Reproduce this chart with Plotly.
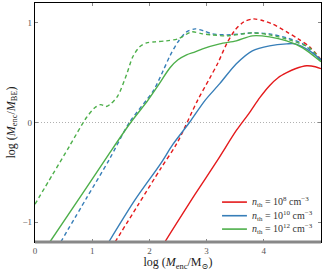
import plotly.graph_objects as go

RED = "#e41a1c"
BLUE = "#377eb8"
GREEN = "#4daf4a"

# n_th = 1e8 (red)
red_solid_x = [2.27, 2.8, 3.2, 3.52, 3.75, 3.93, 4.1, 4.25, 4.4, 4.55, 4.75, 4.9, 5.0]
red_solid_y = [-1.2, -0.72, -0.37, -0.08, 0.1, 0.25, 0.37, 0.45, 0.5, 0.54, 0.57, 0.56, 0.54]
red_dash_x = [1.4, 1.8, 2.2, 2.48, 2.84, 3.05, 3.2, 3.35, 3.5, 3.65, 3.82, 4.0, 4.15, 4.4, 4.6, 4.8, 5.0]
red_dash_y = [-1.2, -0.83, -0.46, -0.21, 0.22, 0.44, 0.6, 0.79, 0.93, 1.01, 1.04, 1.02, 0.99, 0.91, 0.84, 0.76, 0.63]

# n_th = 1e10 (blue)
blue_solid_x = [1.29, 1.745, 2.2, 2.41, 2.7, 2.97, 3.23, 3.52, 3.8, 4.1, 4.4, 4.55, 4.8, 5.0]
blue_solid_y = [-1.2, -0.78, -0.41, -0.22, 0.0, 0.22, 0.39, 0.59, 0.72, 0.77, 0.79, 0.79, 0.72, 0.63]
blue_dash_x = [0.45, 0.9, 1.3, 1.65, 2.07, 2.24, 2.36, 2.5, 2.65, 2.8, 2.95, 3.1, 3.35, 3.6, 3.8, 4.1, 4.4, 4.68, 5.0]
blue_dash_y = [-1.2, -0.76, -0.37, 0.0, 0.32, 0.52, 0.67, 0.81, 0.91, 0.94, 0.92, 0.89, 0.88, 0.89, 0.90, 0.89, 0.85, 0.79, 0.62]

# n_th = 1e12 (green)
green_solid_x = [0.26, 0.8, 1.3, 1.66, 1.97, 2.15, 2.36, 2.5, 2.65, 2.8, 2.93, 3.23, 3.52, 3.8, 4.1, 4.4, 4.68, 5.0]
green_solid_y = [-1.2, -0.74, -0.31, -0.01, 0.22, 0.37, 0.55, 0.63, 0.68, 0.71, 0.74, 0.79, 0.82, 0.87, 0.86, 0.82, 0.75, 0.61]
green_dash_x = [0.0, 0.3, 0.6, 0.9, 1.05, 1.15, 1.24, 1.33, 1.45, 1.6, 1.71, 1.83, 1.95, 2.1, 2.3, 2.5, 2.74, 2.93, 3.1, 3.35, 3.8, 4.1, 4.5, 4.8, 5.0]
green_dash_y = [-0.82, -0.53, -0.24, 0.05, 0.15, 0.18, 0.16, 0.19, 0.27, 0.48, 0.66, 0.76, 0.80, 0.81, 0.82, 0.84, 0.91, 0.89, 0.88, 0.87, 0.90, 0.88, 0.82, 0.75, 0.62]

legend_labels = [
    "<i>n</i><sub>th</sub> = 10<sup>8</sup> cm<sup>−3</sup>",
    "<i>n</i><sub>th</sub> = 10<sup>10</sup> cm<sup>−3</sup>",
    "<i>n</i><sub>th</sub> = 10<sup>12</sup> cm<sup>−3</sup>",
]

x_ticks = [0, 1, 2, 3, 4]
y_ticks = [-1, 0, 1]

fig = go.Figure()

series = [
    (red_solid_x, red_solid_y, red_dash_x, red_dash_y, RED, legend_labels[0]),
    (blue_solid_x, blue_solid_y, blue_dash_x, blue_dash_y, BLUE, legend_labels[1]),
    (green_solid_x, green_solid_y, green_dash_x, green_dash_y, GREEN, legend_labels[2]),
]
for sx, sy, dx, dy, c, lab in series:
    fig.add_trace(go.Scatter(x=dx, y=dy, mode="lines", showlegend=False,
                             line=dict(color=c, width=1.4, dash="4px,3px", shape="spline", smoothing=0.8)))
for sx, sy, dx, dy, c, lab in series:
    fig.add_trace(go.Scatter(x=sx, y=sy, mode="lines", name=lab, showlegend=False,
                             line=dict(color=c, width=1.4, shape="spline", smoothing=0.8)))

fig.add_hline(y=0, line=dict(color="#b0b0b0", width=1, dash="1px,2px"), layer="below")
fig.add_shape(type="line", xref="x domain", yref="y domain", x0=0, x1=1, y0=0, y1=0,
              line=dict(color="#888888", width=3))

# legend box (lower right), built from the series colours and labels
leg_x0, leg_x1, leg_tx = 0.654, 0.741, 0.752
leg_rows = [0.167, 0.110, 0.054]
for (sx, sy, dx, dy, c, lab), ly in zip(series, leg_rows):
    fig.add_shape(type="line", xref="paper", yref="paper", x0=leg_x0, x1=leg_x1, y0=ly, y1=ly,
                  line=dict(color=c, width=1.6))
    fig.add_annotation(xref="paper", yref="paper", x=leg_tx, y=ly, text=lab, showarrow=False,
                       xanchor="left", yanchor="middle", font=dict(size=10, color="#333333"))

font = "Liberation Serif, DejaVu Serif, serif"
fig.update_layout(
    width=323, height=271,
    margin=dict(l=35, r=2, t=3, b=29, autoexpand=False),
    paper_bgcolor="white", plot_bgcolor="white",
    font=dict(family=font, color="#333333", size=10),
    showlegend=False,
    xaxis=dict(range=[0, 5], tickvals=x_ticks, ticks="inside", ticklen=3, tickcolor="#888",
               showgrid=False, zeroline=False, showline=True, linecolor="black", linewidth=1.2,
               mirror="ticks", automargin=False, tickfont=dict(size=9, color="#555555"),
               title=dict(text="log (<i>M</i><sub>enc</sub>/M<sub>⊙</sub>)", font=dict(size=12, color="#222"), standoff=2)),
    yaxis=dict(range=[-1.2, 1.2], tickvals=y_ticks, ticktext=["−1", "0", "1"], ticks="inside", ticklen=3,
               tickcolor="#888", showgrid=False, zeroline=False, showline=True, linecolor="black",
               linewidth=1.2, mirror="ticks", automargin=False, tickfont=dict(size=9, color="#555555"),
               title=dict(text="log (<i>M</i><sub>enc</sub>/<i>M</i><sub>BE</sub>)", font=dict(size=12, color="#222"), standoff=4)),
)

fig.write_html("out.html", config={"displayModeBar": False},
               post_script="document.body.style.margin='0';document.body.style.overflow='hidden';")
